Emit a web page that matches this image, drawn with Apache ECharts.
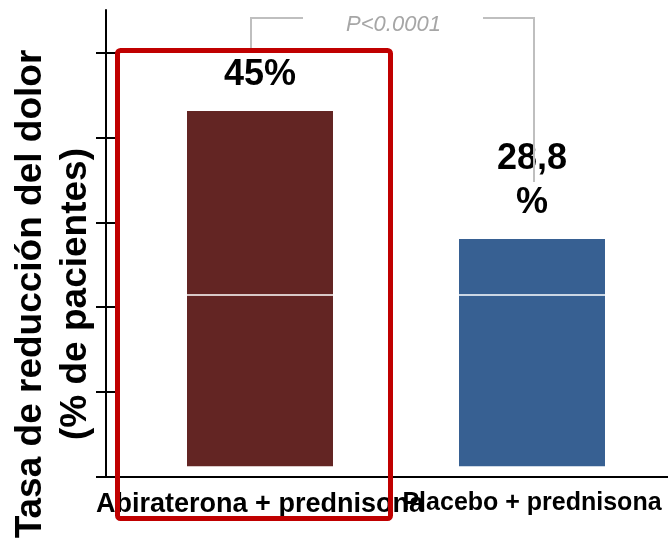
<!DOCTYPE html>
<html>
<head>
<meta charset="utf-8">
<script src="https://cdn.jsdelivr.net/npm/echarts@6/dist/echarts.min.js"></script>
<style>
  html, body { margin: 0; padding: 0; background: #fff; }
  #chart { width: 668px; height: 541px; }
</style>
</head>
<body>
<div id="chart"></div>
<script>
// Pain-reduction rate by treatment arm
const categories = ['Abiraterona + prednisona', 'Placebo + prednisona'];
const painReductionPct = [45, 28.8];
const barColors = ['#632523', '#376092'];
const categoryFontSizes = [27, 25];
const valueSuffixes = ['%', '\n%'];

// Unlabelled tick marks on the left axis
const yTickValues = [0, 1, 2, 3, 4, 5];
const yTickMax = 5.5;

// Value axis range (bars float slightly above the axis line)
const valueMin = -1.35;
const valueMax = 57.8;
const dividerLevel = 21.7;

const pValueLabel = 'P<0.0001';
const yAxisTitle = 'Tasa de reducción del dolor\n(% de pacientes)';

const FONT = '"Liberation Sans", Arial, sans-serif';
const chart = echarts.init(document.getElementById('chart'), null, { renderer: 'canvas' });

const rich = {};
categoryFontSizes.forEach((size, i) => {
  rich['c' + i] = { fontSize: size, fontWeight: 'bold', fontFamily: FONT, color: '#000' };
});

const fmtValue = (v) => String(v).replace('.', ',');

const option = {
  backgroundColor: '#fff',
  animation: false,
  grid: [
    { left: 106, right: 0, top: 10, bottom: 64, outerBoundsMode: 'none', containLabel: false },   // axis frame
    { left: 124, right: 0, top: 10, bottom: 64, outerBoundsMode: 'none', containLabel: false }    // bars
  ],
  xAxis: [
    {
      gridIndex: 0, type: 'value', min: 0, max: 1, position: 'bottom',
      axisLine: { show: true, onZero: false, lineStyle: { color: '#000', width: 2 } },
      axisTick: { show: false }, axisLabel: { show: false }, splitLine: { show: false }
    },
    {
      gridIndex: 1, type: 'category', data: categories, position: 'bottom',
      axisLine: { show: false, onZero: false }, axisTick: { show: false }, splitLine: { show: false },
      axisLabel: {
        interval: 0, margin: 14, color: '#000', hideOverlap: false,
        formatter: (v, i) => `{c${i}|${v}}`,
        rich: rich
      }
    }
  ],
  yAxis: [
    {
      gridIndex: 0, type: 'value', position: 'left', min: 0, max: yTickMax,
      axisLine: { show: true, onZero: false, lineStyle: { color: '#000', width: 2 } },
      axisTick: { show: true, length: 10, customValues: yTickValues, lineStyle: { color: '#000', width: 2 } },
      axisLabel: { show: false }, splitLine: { show: false },
      name: yAxisTitle, nameLocation: 'middle', nameRotate: 90, nameGap: 8,
      nameTextStyle: {
        fontSize: 37, fontWeight: 'bold', lineHeight: 45, color: '#000', fontFamily: FONT,
        align: 'center', padding: [0, 101, 0, 0]
      }
    },
    {
      gridIndex: 0, type: 'value', position: 'left', min: 0, max: yTickMax,
      axisLine: { show: false },
      axisTick: { show: true, inside: true, length: 11, customValues: yTickValues.slice(1), lineStyle: { color: '#000', width: 2 } },
      axisLabel: { show: false }, splitLine: { show: false }
    },
    {
      gridIndex: 1, type: 'value', min: valueMin, max: valueMax, show: false,
      splitLine: { show: false }
    }
  ],
  series: [
    {
      type: 'bar', xAxisIndex: 1, yAxisIndex: 2,
      barWidth: 146,
      data: painReductionPct.map((v, i) => ({ value: v, itemStyle: { color: barColors[i] } })),
      label: {
        show: true, position: 'top', distance: 14,
        color: '#000', fontFamily: FONT, fontWeight: 'bold', fontSize: 36, lineHeight: 44,
        formatter: (p) => fmtValue(p.value) + valueSuffixes[p.dataIndex]
      },
      markLine: {
        silent: true, symbol: 'none', label: { show: false },
        lineStyle: { color: '#fff', width: 1.5, type: 'solid' },
        emphasis: { disabled: true },
        data: [{ yAxis: dividerLevel }]
      }
    }
  ],
  graphic: [
    {
      type: 'polyline', z: 50,
      shape: { points: [[251, 48], [251, 18], [303, 18]] },
      style: { stroke: '#bfbfbf', lineWidth: 2, fill: null }
    },
    {
      type: 'polyline', z: 50,
      shape: { points: [[483, 18], [534, 18], [534, 182]] },
      style: { stroke: '#bfbfbf', lineWidth: 2, fill: null }
    },
    {
      type: 'text', z: 50, x: 393.5, y: 25,
      style: {
        text: pValueLabel, fill: '#a6a6a6', fontSize: 22, fontStyle: 'italic',
        fontFamily: FONT, align: 'center', verticalAlign: 'middle'
      }
    },
    {
      type: 'rect', z: 100,
      shape: { x: 117.5, y: 50.5, width: 273, height: 468, r: 3 },
      style: { fill: 'transparent', stroke: '#c00000', lineWidth: 5 }
    }
  ]
};

chart.setOption(option);
</script>
</body>
</html>
